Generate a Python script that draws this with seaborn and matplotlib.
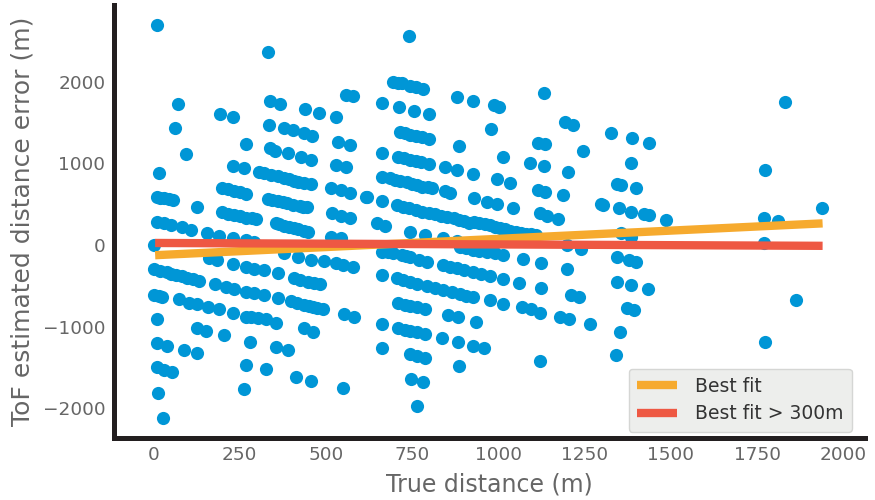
import matplotlib
matplotlib.use("Agg")
import matplotlib.pyplot as plt
import seaborn as sns
import pandas as pd

# ---- data ----
true_distance = [
    9, 72, 63, 95, 17, 9, 32, 58, 9, 30, 50, 3,
    3, 38, 66, 98, 133, 3, 26, 75, 104, 127, 9, 9, 38, 89, 127, 9, 32, 55, 12, 29, 127,
    193, 231, 269, 231, 263, 199, 234, 269, 199, 234, 269, 297, 84, 110, 156, 191, 231, 269, 291,
    162, 185, 231, 269, 291, 179, 211, 234, 269, 291, 159, 191, 231, 269, 303, 127, 153, 205, 280, 269, 263,
    332, 338, 367, 439, 479, 528, 335, 378, 404, 436, 459, 338, 352, 390, 427, 456,
    306, 341, 378, 407, 436, 456, 332, 361, 387, 424, 444, 355, 378, 407, 436, 447,
    378, 418, 456, 494, 320, 361, 407, 447, 482, 320, 361, 398, 436, 462, 491, 552, 581,
    283, 326, 355, 436, 462, 355, 390, 326, 413, 456, 551,
    557, 580, 534, 571, 528, 557, 514, 543, 571, 615, 519, 543, 571, 514, 543, 528, 551, 578,
    742, 696, 722, 745, 782, 664, 713, 756, 800, 880, 926, 987, 1001, 1131, 978,
    716, 745, 779, 800, 886, 1114, 1134, 1192, 1215, 1244, 1327, 664, 710, 745, 776, 800,
    1013, 1091, 1131, 1201, 846, 880, 926, 996, 1033, 664, 687, 716, 750, 779, 808, 846, 860,
    1114, 1134, 1186, 618, 664, 929, 967, 996, 1042,
    707, 742, 779, 817, 851, 886, 915, 929, 960, 990, 1020, 1050, 1080, 1110,
    1299, 1120, 1140, 1172, 649, 670, 745, 788, 840, 880, 1198, 1241,
    664, 696, 720, 745, 794, 889, 926, 967, 1013, 1071, 1123, 840, 880, 926, 976, 1013, 1059,
    1198, 664, 707, 745, 794, 840, 889, 926, 976, 1013, 1068, 1095, 1120, 1123, 1212, 1235,
    1178, 1206, 1267, 710, 745, 788, 854, 883, 935, 664, 710, 745, 788, 837, 883, 926, 958,
    664, 745, 788, 886, 1120, 747, 782, 765,
    1830, 1388, 1437, 1385, 1345, 1356, 1400, 1772, 1302, 1351, 1385, 1423, 1437, 1486,
    1769, 1812, 1937, 1356, 1385, 1769, 1345, 1380, 1400, 1345, 1385, 1434, 1374, 1394,
    1864, 1353, 1342, 1772,
]
tof_error = [
    2700, 1730, 1435, 1110, 885, 590, 575, 550, 280, 265, 250, 0,
    -295, -330, -365, -405, -440, -610, -635, -660, -710, -725, -905, -1205, -1240, -1290, -1325, -1500, -1535, -1560, -1815, -2120, 470,
    1610, 1570, 1240, 970, 945, 695, 660, 630, 400, 370, 335, 320, 220, 185, 145, 110, 85, 60, 35,
    -160, -185, -235, -270, -290, -480, -515, -540, -575, -590, -760, -785, -835, -880, -895, -1020, -1055, -1105, -1190, -1470, -1770,
    2370, 1760, 1730, 1670, 1620, 1570, 1470, 1435, 1405, 1375, 1340, 1190, 1150, 1130, 1080, 1045,
    895, 860, 820, 785, 760, 745, 565, 540, 510, 475, 465, 270, 235, 210, 170, 160,
    -100, -150, -185, -195, -310, -345, -405, -455, -480, -615, -650, -690, -735, -760, -785, -845, -880,
    -880, -905, -955, -1020, -1070, -1250, -1290, -1520, -1620, -1660, -1755,
    1840, 1820, 1265, 1230, 980, 950, 700, 670, 640, 590, 390, 355, 330, 100, 85, -215, -245, -275,
    2555, 2000, 1980, 1950, 1915, 1740, 1690, 1640, 1600, 1815, 1770, 1720, 1690, 1865, 1420,
    1385, 1350, 1325, 1300, 1215, 1250, 1235, 1510, 1470, 1150, 1375, 1130, 1080, 1045, 1015, 995,
    1080, 1005, 970, 895, 955, 920, 870, 810, 760, 835, 820, 785, 750, 715, 700, 665, 640,
    675, 650, 615, 590, 540, 580, 530, 505, 455,
    490, 455, 405, 380, 345, 305, 270, 280, 255, 225, 190, 160, 140, 120,
    505, 390, 355, 320, 270, 235, 160, 125, 85, 50, 0, -55,
    -85, -100, -125, -150, -210, -25, -60, -85, -120, -175, -220, -245, -285, -330, -380, -420, -465,
    -295, -370, -405, -455, -505, -550, -600, -640, -675, -725, -760, -790, -835, -525, -615, -640,
    -885, -910, -970, -710, -750, -785, -860, -885, -945, -970, -1020, -1055, -1090, -1140, -1190, -1240, -1265,
    -1265, -1340, -1385, -1485, -1425, -1645, -1680, -1975,
    1755, 1310, 1250, 1005, 750, 735, 700, 920, 490, 455, 405, 380, 370, 305,
    330, 295, 455, 145, 100, 25, -145, -185, -210, -455, -490, -540, -775, -800,
    -675, -1065, -1350, -1190,
]

# further points inside the dense diagonal bands
band_distance = [
    725, 760, 798, 835, 870, 900, 945, 975, 1005, 1035, 1065, 1095,
    725, 765, 815, 865, 905,
    700, 735, 765, 795, 727, 762,
    322, 360, 392, 420,
    680, 733, 770,
    20, 52, 82, 115, 15, 20, 45,
    215, 252, 215, 250, 285,
    345, 375, 405, 435,
    425, 465, 415, 450, 475,
    860, 900, 950, 905, 945, 990,
    728, 765, 728, 765, 765,
    365, 392, 420,
    730, 762, 710, 760,
]
band_error = [
    470, 430, 395, 360, 325, 290, 265, 240, 210, 175, 150, 130,
    -425, -475, -525, -575, -620,
    800, 770, 735, 710, 1060, 1030,
    880, 840, 805, 775,
    -80, -140, -180,
    -315, -350, -385, -420, -620, 580, 560,
    680, 645, 385, 355, 330,
    550, 525, 495, 470,
    -430, -470, -710, -750, -770,
    -265, -305, -355, -40, -70, -100,
    -730, -765, -1040, -1070, -1360,
    255, 222, 190,
    1370, 1340, 1990, 1935,
]

fit_x = [5, 1940]
best_fit = [-125, 265]
best_fit_300 = [25, -10]

x_ticks = [0, 250, 500, 750, 1000, 1250, 1500, 1750, 2000]
y_ticks = [-2000, -1000, 0, 1000, 2000]

points = pd.DataFrame({"true": true_distance + band_distance,
                       "err": tof_error + band_error})
fits = pd.DataFrame({
    "x": fit_x * 2,
    "y": best_fit + best_fit_300,
    "fit": ["Best fit"] * 2 + ["Best fit > 300m"] * 2,
})

sns.set_style("white")
plt.rcParams["font.family"] = ["DejaVu Sans"]

fig = plt.figure(figsize=(8.75, 5), dpi=100)
ax = fig.add_axes([0.130, 0.125, 0.859, 0.865])

sns.scatterplot(data=points, x="true", y="err", ax=ax, s=90,
                color="#0096D6", linewidth=0, zorder=2, legend=False)
sns.lineplot(data=fits, x="x", y="y", hue="fit", ax=ax,
             palette={"Best fit": "#F6AA2E", "Best fit > 300m": "#EE5843"},
             linewidth=6, zorder=3, solid_capstyle="butt")

ax.set_xlim(-115, 2064)
ax.set_ylim(-2358, 2940)
ax.set_xticks(x_ticks)
ax.set_yticks(y_ticks)

for side in ["top", "right"]:
    ax.spines[side].set_visible(False)
for side in ["left", "bottom"]:
    ax.spines[side].set_linewidth(3.6)
    ax.spines[side].set_color("#231F20")

ax.tick_params(axis="both", direction="in", length=7, width=2.4,
               color="#231F20", labelsize=13.3, labelcolor="#666666", pad=6)
ax.set_xlabel("True distance (m)", fontsize=17, color="#666666", labelpad=6)
ax.set_ylabel("ToF estimated distance error (m)", fontsize=18, color="#666666", labelpad=6)

leg = ax.legend(loc="lower right", fontsize=13.5, frameon=True, fancybox=True,
                facecolor="#EDEEEC", edgecolor="#D5D6D4", framealpha=1,
                handlelength=2.1, handletextpad=1.0, borderpad=0.45,
                labelspacing=0.45, borderaxespad=0.3,
                bbox_to_anchor=(0.99, 0.0))
for t in leg.get_texts():
    t.set_color("#333333")
for h in leg.get_lines():
    h.set_linewidth(6)

fig.savefig("out.png", dpi=100)
